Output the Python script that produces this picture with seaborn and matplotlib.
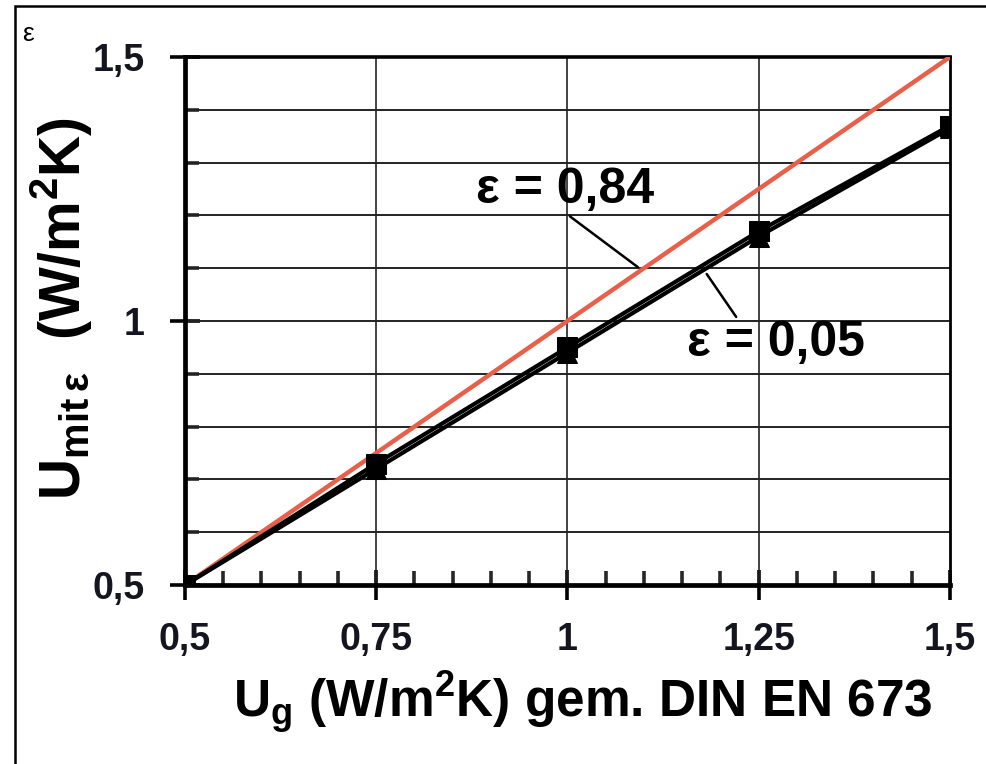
import numpy as np
import pandas as pd
import matplotlib.pyplot as plt
from matplotlib.patches import Rectangle
from matplotlib.ticker import MultipleLocator, FixedLocator
import seaborn as sns

# values
ug = [0.5, 0.75, 1.0, 1.25, 1.5]
u_eps084 = [0.5, 0.73, 0.95, 1.17, 1.37]
u_eps005 = [0.5, 0.72, 0.94, 1.16, 1.365]
ref_x = [0.5, 1.5]
ref_y = [0.5, 1.5]
x_ticks = [0.5, 0.75, 1.0, 1.25, 1.5]
x_ticklabels = ["0,5", "0,75", "1", "1,25", "1,5"]
y_ticks = [0.5, 1.0, 1.5]
y_ticklabels = ["0,5", "1", "1,5"]

sns.set_style("white")
plt.rcParams['font.family'] = ['Liberation Sans', 'DejaVu Sans']
plt.rcParams['text.color'] = 'black'
plt.rcParams['axes.labelcolor'] = 'black'

fig = plt.figure(figsize=(9.87, 7.64), dpi=100)
ax = fig.add_axes([0.1874, 0.2343, 0.9625 - 0.1874, 0.9254 - 0.2343])

# grid first so lines sit on top
for yv in np.arange(0.6, 1.45, 0.1):
    ax.axhline(yv, color='#222222', lw=1.4, zorder=1)
for xv in [0.75, 1.0, 1.25]:
    ax.axvline(xv, color='#222222', lw=1.2, zorder=1)

sns.lineplot(x=ref_x, y=ref_y, color='#e8604a', lw=3.2, ax=ax, zorder=3)
sns.lineplot(x=ug, y=u_eps084, color='black', lw=3, marker='s', markersize=14,
             markeredgecolor='black', ax=ax, zorder=4)
sns.lineplot(x=ug, y=u_eps005, color='black', lw=3, marker='^', markersize=15,
             markeredgecolor='black', ax=ax, zorder=4)

ax.set_xlim(0.5, 1.5)
ax.set_ylim(0.5, 1.5)

ax.xaxis.set_major_locator(FixedLocator(x_ticks))
ax.set_xticklabels(x_ticklabels)
ax.xaxis.set_minor_locator(MultipleLocator(0.05))
ax.yaxis.set_major_locator(FixedLocator(y_ticks))
ax.set_yticklabels(y_ticklabels)
ax.yaxis.set_minor_locator(MultipleLocator(0.1))

ax.tick_params(axis='both', which='both', bottom=True, left=True, top=False, right=False)
ax.tick_params(axis='both', which='major', direction='inout', length=22, width=2.6,
               labelsize=27, pad=18, colors='black')
ax.tick_params(axis='x', which='major', pad=16)
ax.tick_params(axis='both', which='minor', direction='in', length=10, width=2.6)
for lab in ax.get_xticklabels() + ax.get_yticklabels():
    lab.set_fontweight('bold')
    lab.set_color('#15151f')

for side in ['left', 'bottom']:
    ax.spines[side].set_linewidth(3.4)
    ax.spines[side].set_color('black')
ax.spines['top'].set_linewidth(2.6)
ax.spines['right'].set_linewidth(2.0)
ax.spines['top'].set_color('black')
ax.spines['right'].set_color('black')

ax.set_xlabel(r"U$_\mathregular{g}$ (W/m$^\mathregular{2}$K) gem. DIN EN 673",
              fontsize=37, fontweight='bold', labelpad=8)
ax.xaxis.label.set_x(0.52)
ax.set_ylabel(r"U$_\mathregular{mit\,ε}$  (W/m$^\mathregular{2}$K)",
              fontsize=41, fontweight='bold', labelpad=-2)
ax.yaxis.label.set_y(0.523)

ax.annotate("ε = 0,84", xy=(1.092, 1.102), xytext=(0.997, 1.248),
            fontsize=36, fontweight='bold', ha='center', va='center',
            arrowprops=dict(arrowstyle='-', color='black', lw=1.8,
                            shrinkA=0, shrinkB=0, relpos=(0.45, 0.15)),
            zorder=5)
ax.annotate("ε = 0,05", xy=(1.182, 1.089), xytext=(1.272, 0.958),
            fontsize=36, fontweight='bold', ha='center', va='center',
            arrowprops=dict(arrowstyle='-', color='black', lw=1.8,
                            shrinkA=0, shrinkB=0, relpos=(0.3, 0.95)),
            zorder=5)

fig.text(0.022, 0.955, "ε", fontsize=19, ha='left', va='center')
fig.patches.append(Rectangle((0.0152, -0.05), 1.2, 1.05 - 0.0079, transform=fig.transFigure,
                             fill=False, edgecolor='black', lw=1.8))

fig.savefig("out.png", dpi=100)
